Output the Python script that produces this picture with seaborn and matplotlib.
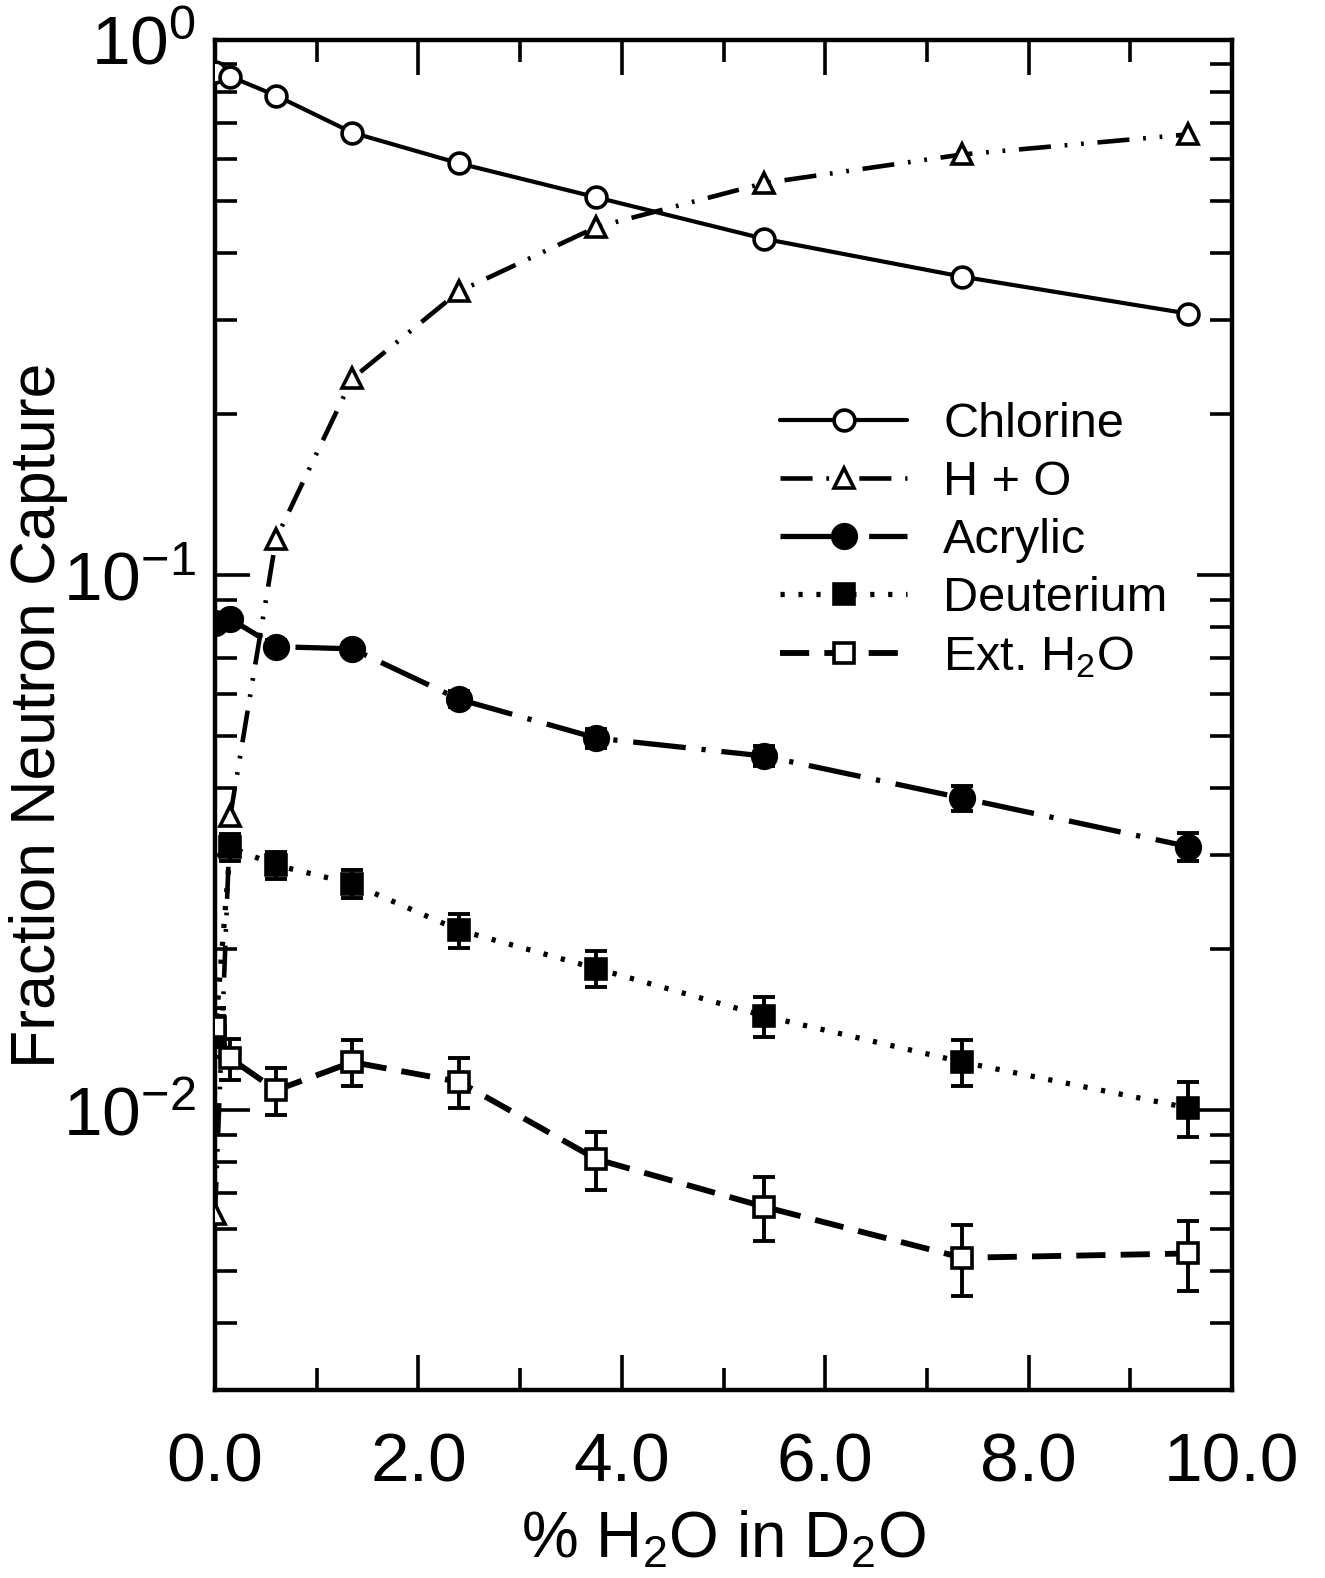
import matplotlib
matplotlib.use("Agg")
import matplotlib.pyplot as plt
from matplotlib.ticker import MultipleLocator, LogLocator, NullFormatter
import seaborn as sns

# % H2O in D2O (x positions of the measurements)
h2o_pct = [0.0, 0.15, 0.6, 1.35, 2.4, 3.75, 5.4, 7.35, 9.57]

# fraction of neutron captures on each target
chlorine = [0.872, 0.854, 0.787, 0.671, 0.588, 0.508, 0.425, 0.361, 0.308]
h_plus_o = [0.0064, 0.0355, 0.117, 0.233, 0.339, 0.447, 0.540, 0.611, 0.666]
acrylic = [0.0814, 0.0828, 0.0735, 0.0728, 0.0586, 0.0496, 0.0459, 0.0383, 0.0311]
deuterium = [0.0138, 0.0310, 0.0287, 0.0265, 0.0217, 0.0184, 0.0150, 0.0123, 0.0101]
ext_h2o = [0.0143, 0.0125, 0.0109, 0.0123, 0.0113, 0.0081, 0.0066, 0.0053, 0.0054]

# error bars (+/-)
acrylic_err = [0.002, 0.002, 0.002, 0.002, 0.002, 0.002, 0.002, 0.002, 0.0019]
deuterium_err = [0.0012, 0.0018, 0.0017, 0.0016, 0.0016, 0.0014, 0.0013, 0.0012, 0.0012]
ext_h2o_err = [0.0012, 0.0011, 0.0011, 0.0012, 0.0012, 0.0010, 0.0009, 0.0008, 0.0008]

x_ticks = [0, 2, 4, 6, 8, 10]
x_tick_labels = ['0.0', '2.0', '4.0', '6.0', '8.0', '10.0']
y_ticks = [0.01, 0.1, 1.0]
y_tick_labels = ['10$^{-2}$', '10$^{-1}$', '10$^{0}$']

sns.set_style('ticks')
plt.rcParams['font.family'] = ['Liberation Sans', 'DejaVu Sans']
plt.rcParams['mathtext.default'] = 'regular'
plt.rcParams['axes.unicode_minus'] = False
narrow = ['Liberation Sans Narrow', 'Liberation Sans', 'DejaVu Sans']

fig = plt.figure(figsize=(13.25, 15.78), dpi=100)
ax = fig.add_axes([0.1623, 0.1191, 0.7675, 0.8556])
ax.set_yscale('log')

series = [
    dict(label='Chlorine', y=chlorine, err=None, marker='o', mfc='white',
         ms=15, ls='-', lw=3.0),
    dict(label='H + O', y=h_plus_o, err=None, marker='^', mfc='white',
         ms=15, ls=(0, (7, 3, 0.6, 3, 0.6, 3)), lw=3.3),
    dict(label='Acrylic', y=acrylic, err=acrylic_err, marker='o', mfc='black',
         ms=17, ls=(0, (10, 3, 0.8, 3)), lw=3.8),
    dict(label='Deuterium', y=deuterium, err=deuterium_err, marker='s', mfc='black',
         ms=14, ls=(0, (0.8, 2.6)), lw=3.8),
    dict(label='Ext. H$_2$O', y=ext_h2o, err=ext_h2o_err, marker='s', mfc='white',
         ms=14, ls=(0, (5.0, 2.6)), lw=4.2),
]

for s in series:
    if s['err'] is not None:
        ax.errorbar(h2o_pct, s['y'], yerr=s['err'], fmt='none', ecolor='black',
                    elinewidth=2.8, capsize=8, capthick=2.8, zorder=2)
    sns.lineplot(
        x=h2o_pct,
        y=s['y'],
        ax=ax,
        color='black',
        errorbar=None,
        marker=s['marker'],
        markersize=s['ms'],
        markerfacecolor=s['mfc'],
        markeredgecolor='black',
        markeredgewidth=2.6,
        linestyle=s['ls'],
        linewidth=s['lw'],
        label=s['label'],
        zorder=3,
    )

ax.set_xlim(0, 10)
ax.set_ylim(0.003, 1.0)
ax.set_xticks(x_ticks, x_tick_labels)
ax.xaxis.set_minor_locator(MultipleLocator(1))
ax.set_yticks(y_ticks, y_tick_labels)
ax.yaxis.set_minor_locator(LogLocator(base=10, subs=range(2, 10)))
ax.yaxis.set_minor_formatter(NullFormatter())

ax.tick_params(which='both', direction='in', top=True, right=True,
               width=2.6, color='black')
ax.tick_params(which='major', length=25)
ax.tick_params(which='minor', length=16)
ax.tick_params(axis='x', which='major', pad=30)
ax.tick_params(axis='y', which='major', pad=14)
for lbl in ax.get_xticklabels() + ax.get_yticklabels():
    lbl.set_fontfamily(narrow)
    lbl.set_fontsize(50)
    lbl.set_color('black')

for sp in ax.spines.values():
    sp.set_linewidth(3.2)
    sp.set_color('black')

ax.set_xlabel('% H$_2$O in D$_2$O', fontsize=46, labelpad=10, color='black')
ax.set_ylabel('Fraction Neutron Capture', fontsize=45, color='black')
ax.yaxis.set_label_coords(-0.145, 0.5)

ax.legend(loc='upper left', bbox_to_anchor=(0.556, 0.732), frameon=False,
          fontsize=35, handlelength=2.6, handletextpad=0.75, labelspacing=0.27,
          numpoints=1, borderpad=0, borderaxespad=0, labelcolor='black')

fig.savefig('out.png', dpi=100, facecolor='white')
